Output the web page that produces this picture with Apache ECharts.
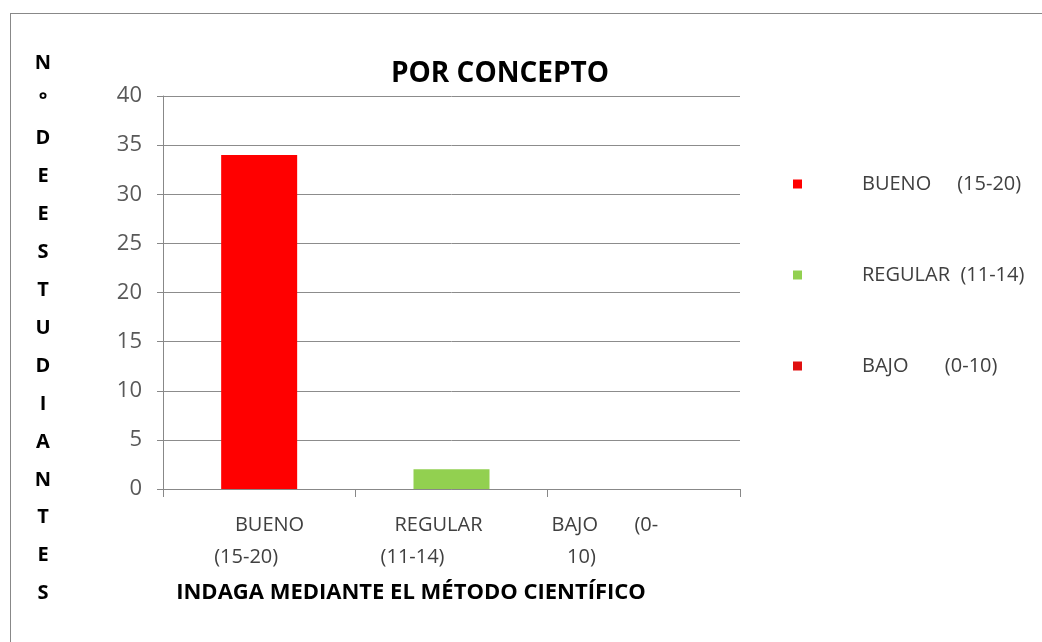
<!DOCTYPE html>
<html>
<head>
<meta charset="utf-8">
<script src="https://cdn.jsdelivr.net/npm/echarts@6/dist/echarts.min.js"></script>
<style>
  html, body { margin: 0; padding: 0; background: #fff; }
  #main { position: absolute; left: 0; top: 0; width: 1042px; height: 642px; }
  #frame { position: absolute; left: 10px; top: 13px; width: 1040px; height: 640px; border: 1px solid #888; box-sizing: border-box; }
</style>
</head>
<body>
<div id="frame"></div>
<div id="main"></div>
<script>
// categorias y valores
const categories = [
  '    BUENO\n(15-20)     ',
  'REGULAR     \n(11-14)               ',
  'BAJO       (0-               \n10)                        '
];
const seriesNames = ['BUENO     (15-20)', 'REGULAR  (11-14)', 'BAJO       (0-10)'];
const bueno = [34, null, null];
const regular = [null, 2, null];
const bajo = [null, null, 0];
const yTicks = [0, 5, 10, 15, 20, 25, 30, 35, 40];

const font = "'Open Sans', sans-serif";
const boldFont = "'Open Sans', 'Liberation Sans', sans-serif";

let myChart = echarts.init(document.getElementById('main'));
let option = {
  animation: false,
  title: [
    {
      text: 'POR CONCEPTO',
      left: 495,
      top: 55,
      textAlign: 'center',
      textStyle: { fontFamily: boldFont, fontSize: 28, fontWeight: 'bold', color: '#000' }
    },
    {
      text: 'N\n°\nD\nE\nE\nS\nT\nU\nD\nI\nA\nN\nT\nE\nS',
      left: 38,
      top: 39,
      textAlign: 'center',
      textStyle: { fontFamily: boldFont, fontSize: 20, fontWeight: 'bold', color: '#000', lineHeight: 37.9 }
    },
    {
      text: 'INDAGA MEDIANTE EL MÉTODO CIENTÍFICO',
      left: 406,
      top: 577,
      textAlign: 'center',
      textStyle: { fontFamily: boldFont, fontSize: 22, fontWeight: 'bold', color: '#000' }
    }
  ],
  color: ['#ff0000', '#92d050', '#e01010'],
  legend: {
    orient: 'vertical',
    left: 788,
    top: 169,
    itemGap: 71,
    icon: 'rect',
    itemWidth: 9,
    itemHeight: 9,
    data: seriesNames,
    textStyle: { fontFamily: font, fontSize: 20, color: '#404040', padding: [0, 0, 0, 55] }
  },
  grid: { left: 163, right: 302, top: 96, bottom: 153 },
  xAxis: {
    type: 'category',
    data: categories,
    axisLine: { lineStyle: { color: '#888', width: 1 } },
    axisTick: { show: true, length: 8, lineStyle: { color: '#888' } },
    axisLabel: { interval: 0, hideOverlap: false, fontFamily: font, fontSize: 20, color: '#404040', lineHeight: 32, margin: 20 }
  },
  yAxis: {
    type: 'value',
    min: 0,
    max: 40,
    interval: 5,
    axisLine: { show: true, lineStyle: { color: '#888', width: 1 } },
    axisTick: { show: true, length: 6, lineStyle: { color: '#888' } },
    splitLine: { lineStyle: { color: '#8c8c8c', width: 1 } },
    axisLabel: {
      fontFamily: font, fontSize: 22, color: '#595959', margin: 21,
      formatter: v => yTicks.includes(v) ? String(v) : ''
    }
  },
  series: [
    { name: seriesNames[0], type: 'bar', stack: 'total', barWidth: 76, data: bueno, itemStyle: { color: '#ff0000' } },
    { name: seriesNames[1], type: 'bar', stack: 'total', barWidth: 76, data: regular, itemStyle: { color: '#92d050' } },
    { name: seriesNames[2], type: 'bar', stack: 'total', barWidth: 76, data: bajo, itemStyle: { color: '#e01010' } }
  ]
};
option && myChart.setOption(option);
</script>
</body>
</html>
